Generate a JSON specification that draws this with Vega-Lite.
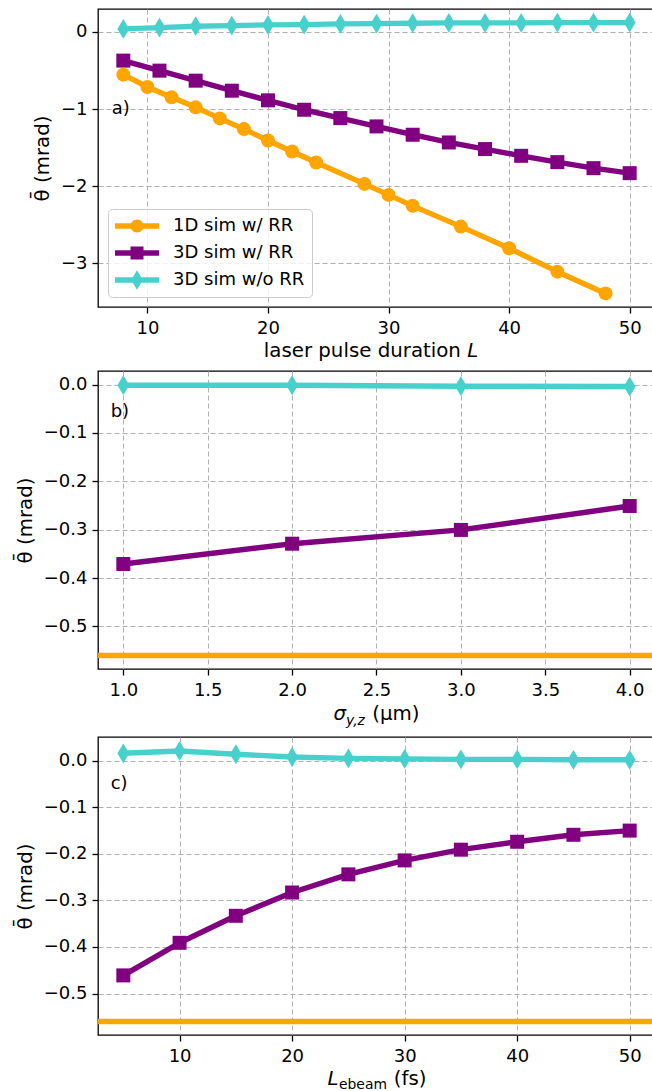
{
  "$schema": "https://vega.github.io/schema/vega-lite/v6.json",
  "padding": {"left": 14, "top": 8, "right": 0, "bottom": 0},
  "bounds": "flush",
  "spacing": 64,
  "resolve": {"scale": {"color": "independent", "shape": "independent"}, "legend": {"color": "independent", "shape": "independent"}},
  "config": {
    "font": "DejaVu Sans",
    "view": {"stroke": "black", "strokeWidth": 1.3},
    "axis": {
      "grid": true, "gridColor": "#b0b0b0", "gridDash": [5, 3], "gridWidth": 1,
      "domain": false, "ticks": true, "tickColor": "black", "tickWidth": 1.3, "tickSize": 6,
      "labelFont": "DejaVu Sans", "labelFontSize": 18, "labelColor": "black", "labelPadding": 5,
      "titleFont": "DejaVu Sans", "titleFontSize": 19.8, "titleFontWeight": "normal", "titleColor": "black",
      "labelOverlap": false, "labelFlush": false
    },
    "axisY": {"titlePadding": 8},
    "axisX": {"titlePadding": 6, "labelPadding": 6},
    "text": {"font": "DejaVu Sans", "color": "black"}
  },
  "datasets": {
    "a": [
      {"series": "1D sim w/ RR", "L": 8, "theta": -0.554},
      {"series": "1D sim w/ RR", "L": 10, "theta": -0.714},
      {"series": "1D sim w/ RR", "L": 12, "theta": -0.848},
      {"series": "1D sim w/ RR", "L": 14, "theta": -0.978},
      {"series": "1D sim w/ RR", "L": 16, "theta": -1.121},
      {"series": "1D sim w/ RR", "L": 18, "theta": -1.260},
      {"series": "1D sim w/ RR", "L": 20, "theta": -1.407},
      {"series": "1D sim w/ RR", "L": 22, "theta": -1.550},
      {"series": "1D sim w/ RR", "L": 24, "theta": -1.693},
      {"series": "1D sim w/ RR", "L": 28, "theta": -1.970},
      {"series": "1D sim w/ RR", "L": 30, "theta": -2.113},
      {"series": "1D sim w/ RR", "L": 32, "theta": -2.255},
      {"series": "1D sim w/ RR", "L": 36, "theta": -2.524},
      {"series": "1D sim w/ RR", "L": 40, "theta": -2.805},
      {"series": "1D sim w/ RR", "L": 44, "theta": -3.108},
      {"series": "1D sim w/ RR", "L": 48, "theta": -3.390},
      {"series": "3D sim w/ RR", "L": 8, "theta": -0.372},
      {"series": "3D sim w/ RR", "L": 11, "theta": -0.502},
      {"series": "3D sim w/ RR", "L": 14, "theta": -0.632},
      {"series": "3D sim w/ RR", "L": 17, "theta": -0.762},
      {"series": "3D sim w/ RR", "L": 20, "theta": -0.887},
      {"series": "3D sim w/ RR", "L": 23, "theta": -1.009},
      {"series": "3D sim w/ RR", "L": 26, "theta": -1.117},
      {"series": "3D sim w/ RR", "L": 29, "theta": -1.225},
      {"series": "3D sim w/ RR", "L": 32, "theta": -1.333},
      {"series": "3D sim w/ RR", "L": 35, "theta": -1.433},
      {"series": "3D sim w/ RR", "L": 38, "theta": -1.519},
      {"series": "3D sim w/ RR", "L": 41, "theta": -1.606},
      {"series": "3D sim w/ RR", "L": 44, "theta": -1.688},
      {"series": "3D sim w/ RR", "L": 47, "theta": -1.766},
      {"series": "3D sim w/ RR", "L": 50, "theta": -1.831},
      {"series": "3D sim w/o RR", "L": 8, "theta": 0.039},
      {"series": "3D sim w/o RR", "L": 11, "theta": 0.056},
      {"series": "3D sim w/o RR", "L": 14, "theta": 0.074},
      {"series": "3D sim w/o RR", "L": 17, "theta": 0.082},
      {"series": "3D sim w/o RR", "L": 20, "theta": 0.091},
      {"series": "3D sim w/o RR", "L": 23, "theta": 0.095},
      {"series": "3D sim w/o RR", "L": 26, "theta": 0.104},
      {"series": "3D sim w/o RR", "L": 29, "theta": 0.108},
      {"series": "3D sim w/o RR", "L": 32, "theta": 0.113},
      {"series": "3D sim w/o RR", "L": 35, "theta": 0.117},
      {"series": "3D sim w/o RR", "L": 38, "theta": 0.117},
      {"series": "3D sim w/o RR", "L": 41, "theta": 0.117},
      {"series": "3D sim w/o RR", "L": 44, "theta": 0.121},
      {"series": "3D sim w/o RR", "L": 47, "theta": 0.121},
      {"series": "3D sim w/o RR", "L": 50, "theta": 0.121}
    ],
    "b": [
      {"series": "1D sim w/ RR", "theta": -0.56},
      {"series": "3D sim w/ RR", "s": 1, "theta": -0.371},
      {"series": "3D sim w/ RR", "s": 2, "theta": -0.329},
      {"series": "3D sim w/ RR", "s": 3, "theta": -0.3005},
      {"series": "3D sim w/ RR", "s": 4, "theta": -0.251},
      {"series": "3D sim w/o RR", "s": 1, "theta": -0.0014},
      {"series": "3D sim w/o RR", "s": 2, "theta": -0.0015},
      {"series": "3D sim w/o RR", "s": 3, "theta": -0.0034},
      {"series": "3D sim w/o RR", "s": 4, "theta": -0.004}
    ],
    "c": [
      {"series": "1D sim w/ RR", "theta": -0.56},
      {"series": "3D sim w/ RR", "Le": 5, "theta": -0.461},
      {"series": "3D sim w/ RR", "Le": 10, "theta": -0.391},
      {"series": "3D sim w/ RR", "Le": 15, "theta": -0.333},
      {"series": "3D sim w/ RR", "Le": 20, "theta": -0.283},
      {"series": "3D sim w/ RR", "Le": 25, "theta": -0.244},
      {"series": "3D sim w/ RR", "Le": 30, "theta": -0.214},
      {"series": "3D sim w/ RR", "Le": 35, "theta": -0.191},
      {"series": "3D sim w/ RR", "Le": 40, "theta": -0.174},
      {"series": "3D sim w/ RR", "Le": 45, "theta": -0.159},
      {"series": "3D sim w/ RR", "Le": 50, "theta": -0.150},
      {"series": "3D sim w/o RR", "Le": 5, "theta": 0.016},
      {"series": "3D sim w/o RR", "Le": 10, "theta": 0.021},
      {"series": "3D sim w/o RR", "Le": 15, "theta": 0.014},
      {"series": "3D sim w/o RR", "Le": 20, "theta": 0.008},
      {"series": "3D sim w/o RR", "Le": 25, "theta": 0.005},
      {"series": "3D sim w/o RR", "Le": 30, "theta": 0.004},
      {"series": "3D sim w/o RR", "Le": 35, "theta": 0.003},
      {"series": "3D sim w/o RR", "Le": 40, "theta": 0.003},
      {"series": "3D sim w/o RR", "Le": 45, "theta": 0.002},
      {"series": "3D sim w/o RR", "Le": 50, "theta": 0.002}
    ]
  },
  "vconcat": [
    {
      "width": 557, "height": 298,
      "data": {"name": "a"},
      "layer": [
        {"transform": [{"filter": "datum.series === '1D sim w/ RR'"}],
         "mark": {"type": "line", "color": "#FFA500", "strokeWidth": 5.4, "strokeJoin": "round", "point": {"filled": true, "shape": "circle", "size": 196, "color": "#FFA500", "strokeWidth": 0, "opacity": 1}},
         "encoding": {
           "x": {"field": "L", "type": "quantitative", "scale": {"domain": [5.9, 52.1], "nice": false, "zero": false}, "axis": {"values": [10, 20, 30, 40, 50], "format": "d", "title": null}},
           "y": {"field": "theta", "type": "quantitative", "scale": {"domain": [-3.566, 0.297], "nice": false, "zero": false}, "axis": {"values": [-3, -2, -1, 0], "format": "d", "title": "θ̄ (mrad)"}}
         }},
        {"transform": [{"filter": "datum.series === '3D sim w/ RR'"}],
         "mark": {"type": "line", "color": "#800080", "strokeWidth": 5.4, "strokeJoin": "round", "point": {"filled": true, "shape": "square", "size": 196, "color": "#800080", "strokeWidth": 0, "opacity": 1}},
         "encoding": {"x": {"field": "L", "type": "quantitative"}, "y": {"field": "theta", "type": "quantitative"}}},
        {"transform": [{"filter": "datum.series === '3D sim w/o RR'"}],
         "mark": {"type": "line", "color": "#48D1CC", "strokeWidth": 5.4, "strokeJoin": "round", "point": {"filled": true, "shape": "M0,-1.414L0.85,0L0,1.414L-0.85,0Z", "size": 196, "color": "#48D1CC", "strokeWidth": 0, "opacity": 1}},
         "encoding": {"x": {"field": "L", "type": "quantitative"}, "y": {"field": "theta", "type": "quantitative"}}},
        {"data": {"values": [{}]},
         "mark": {"type": "text", "text": "a)", "align": "left", "baseline": "middle", "fontSize": 18, "clip": false},
         "encoding": {"x": {"datum": 7.04}, "y": {"datum": -1.0}}},
        {"data": {"values": [{}]},
         "mark": {"type": "text", "text": "laser pulse duration", "align": "right", "baseline": "alphabetic", "dy": 50, "fontSize": 19.8, "clip": false},
         "encoding": {"x": {"datum": 36.0}, "y": {"datum": -3.566}}},
        {"data": {"values": [{}]},
         "mark": {"type": "text", "text": "L", "fontStyle": "italic", "align": "left", "baseline": "alphabetic", "dy": 50, "fontSize": 19.8, "clip": false},
         "encoding": {"x": {"datum": 36.53}, "y": {"datum": -3.566}}},
        {"data": {"values": []},
         "mark": {"type": "point", "filled": true, "opacity": 1},
         "encoding": {
           "x": {"field": "L", "type": "quantitative"}, "y": {"field": "theta", "type": "quantitative"},
           "color": {"field": "series", "type": "nominal", "title": null,
             "scale": {"domain": ["1D sim w/ RR", "3D sim w/ RR", "3D sim w/o RR"], "range": ["#FFA500", "#800080", "#48D1CC"]},
             "legend": {"orient": "bottom-left", "offset": 10, "title": null, "labelFont": "DejaVu Sans", "labelFontSize": 18, "labelColor": "black", "symbolSize": 400, "symbolStrokeWidth": 0, "symbolOpacity": 1, "labelOffset": 38, "rowPadding": 8, "padding": 7, "strokeColor": "#cccccc", "fillColor": "rgba(255,255,255,0.8)", "cornerRadius": 4}},
           "shape": {"field": "series", "type": "nominal", "title": null,
             "scale": {"domain": ["1D sim w/ RR", "3D sim w/ RR", "3D sim w/o RR"], "range": [
               "M-1,-0.27H3.4V0.27H-1Z M1.2,-0.65A0.65,0.65 0 1 1 1.2,0.65A0.65,0.65 0 1 1 1.2,-0.65Z",
               "M-1,-0.27H3.4V0.27H-1Z M0.55,-0.65H1.85V0.65H0.55Z",
               "M-1,-0.27H3.4V0.27H-1Z M1.2,-0.97L1.78,0L1.2,0.97L0.62,0Z"]},
             "legend": {"orient": "bottom-left", "offset": 10, "title": null, "labelFont": "DejaVu Sans", "labelFontSize": 18, "labelColor": "black", "symbolSize": 400, "symbolStrokeWidth": 0, "symbolOpacity": 1, "labelOffset": 38, "rowPadding": 8, "padding": 7, "strokeColor": "#cccccc", "fillColor": "rgba(255,255,255,0.8)", "cornerRadius": 4}}
         }}
      ]
    },
    {
      "bounds": "flush",
      "spacing": 68,
      "vconcat": [
        {
          "width": 557, "height": 298,
          "data": {"name": "b"},
          "layer": [
            {"transform": [{"filter": "datum.series === '3D sim w/ RR'"}],
             "mark": {"type": "line", "color": "#800080", "strokeWidth": 5.4, "strokeJoin": "round", "point": {"filled": true, "shape": "square", "size": 196, "color": "#800080", "strokeWidth": 0, "opacity": 1}},
             "encoding": {
               "x": {"field": "s", "type": "quantitative", "scale": {"domain": [0.85, 4.15], "nice": false, "zero": false}, "axis": {"values": [1, 1.5, 2, 2.5, 3, 3.5, 4], "format": ".1f", "title": null}},
               "y": {"field": "theta", "type": "quantitative", "scale": {"domain": [-0.588, 0.028], "nice": false, "zero": false}, "axis": {"values": [-0.5, -0.4, -0.3, -0.2, -0.1, 0], "format": ".1f", "title": "θ̄ (mrad)"}}
             }},
            {"transform": [{"filter": "datum.series === '3D sim w/o RR'"}],
             "mark": {"type": "line", "color": "#48D1CC", "strokeWidth": 5.4, "strokeJoin": "round", "point": {"filled": true, "shape": "M0,-1.414L0.85,0L0,1.414L-0.85,0Z", "size": 196, "color": "#48D1CC", "strokeWidth": 0, "opacity": 1}},
             "encoding": {"x": {"field": "s", "type": "quantitative"}, "y": {"field": "theta", "type": "quantitative"}}},
            {"transform": [{"filter": "datum.series === '1D sim w/ RR'"}],
             "mark": {"type": "rule", "color": "#FFA500", "strokeWidth": 5.4},
             "encoding": {"y": {"field": "theta", "type": "quantitative"}}},
            {"data": {"values": [{}]},
             "mark": {"type": "text", "text": "b)", "align": "left", "baseline": "middle", "fontSize": 18, "clip": false},
             "encoding": {"x": {"datum": 0.925}, "y": {"datum": -0.057}}},
            {"data": {"values": [{}]},
             "mark": {"type": "text", "text": "σ", "fontStyle": "italic", "align": "left", "baseline": "alphabetic", "dy": 51, "fontSize": 19.8, "clip": false},
             "encoding": {"x": {"datum": 2.2446}, "y": {"datum": -0.588}}},
            {"data": {"values": [{}]},
             "mark": {"type": "text", "text": "y,z", "fontStyle": "italic", "align": "left", "baseline": "alphabetic", "dy": 55.5, "fontSize": 13.9, "clip": false},
             "encoding": {"x": {"datum": 2.3193}, "y": {"datum": -0.588}}},
            {"data": {"values": [{}]},
             "mark": {"type": "text", "text": "(μm)", "align": "left", "baseline": "alphabetic", "dy": 51, "fontSize": 19.8, "clip": false},
             "encoding": {"x": {"datum": 2.4751}, "y": {"datum": -0.588}}}
          ]
        },
        {
          "width": 557, "height": 298,
          "data": {"name": "c"},
          "layer": [
            {"transform": [{"filter": "datum.series === '3D sim w/ RR'"}],
             "mark": {"type": "line", "color": "#800080", "strokeWidth": 5.4, "strokeJoin": "round", "point": {"filled": true, "shape": "square", "size": 196, "color": "#800080", "strokeWidth": 0, "opacity": 1}},
             "encoding": {
               "x": {"field": "Le", "type": "quantitative", "scale": {"domain": [2.75, 52.25], "nice": false, "zero": false}, "axis": {"values": [10, 20, 30, 40, 50], "format": "d", "title": null}},
               "y": {"field": "theta", "type": "quantitative", "scale": {"domain": [-0.589, 0.051], "nice": false, "zero": false}, "axis": {"values": [-0.5, -0.4, -0.3, -0.2, -0.1, 0], "format": ".1f", "title": "θ̄ (mrad)"}}
             }},
            {"transform": [{"filter": "datum.series === '3D sim w/o RR'"}],
             "mark": {"type": "line", "color": "#48D1CC", "strokeWidth": 5.4, "strokeJoin": "round", "point": {"filled": true, "shape": "M0,-1.414L0.85,0L0,1.414L-0.85,0Z", "size": 196, "color": "#48D1CC", "strokeWidth": 0, "opacity": 1}},
             "encoding": {"x": {"field": "Le", "type": "quantitative"}, "y": {"field": "theta", "type": "quantitative"}}},
            {"transform": [{"filter": "datum.series === '1D sim w/ RR'"}],
             "mark": {"type": "rule", "color": "#FFA500", "strokeWidth": 5.4},
             "encoding": {"y": {"field": "theta", "type": "quantitative"}}},
            {"data": {"values": [{}]},
             "mark": {"type": "text", "text": "c)", "align": "left", "baseline": "middle", "fontSize": 18, "clip": false},
             "encoding": {"x": {"datum": 3.88}, "y": {"datum": -0.049}}},
            {"data": {"values": [{}]},
             "mark": {"type": "text", "text": "L", "fontStyle": "italic", "align": "left", "baseline": "alphabetic", "dy": 50, "fontSize": 19.8, "clip": false},
             "encoding": {"x": {"datum": 23.146}, "y": {"datum": -0.589}}},
            {"data": {"values": [{}]},
             "mark": {"type": "text", "text": "ebeam", "align": "left", "baseline": "alphabetic", "dy": 54, "fontSize": 13.9, "clip": false},
             "encoding": {"x": {"datum": 24.168}, "y": {"datum": -0.589}}},
            {"data": {"values": [{}]},
             "mark": {"type": "text", "text": "(fs)", "align": "left", "baseline": "alphabetic", "dy": 50, "fontSize": 19.8, "clip": false},
             "encoding": {"x": {"datum": 29.028}, "y": {"datum": -0.589}}}
          ]
        }
      ]
    }
  ]
}
